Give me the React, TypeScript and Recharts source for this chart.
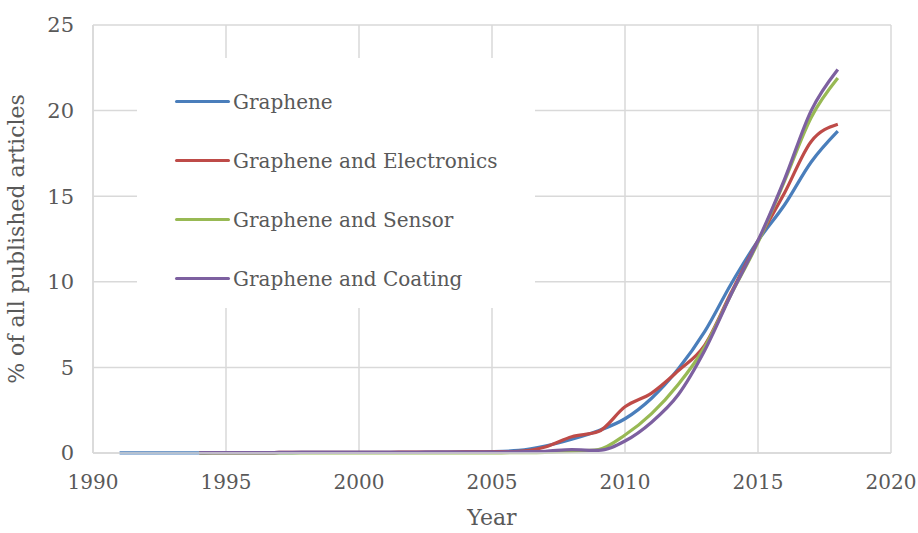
import React from 'react';
import { LineChart, Line, XAxis, YAxis, CartesianGrid, Legend } from 'recharts';

const years = [
  1991, 1992, 1993, 1994, 1995, 1996, 1997, 1998, 1999, 2000, 2001, 2002, 2003, 2004,
  2005, 2006, 2007, 2008, 2009, 2010, 2011, 2012, 2013, 2014, 2015, 2016, 2017, 2018,
];

// share of all published articles (%), one value per year above
const graphene = [
  0.01, 0.01, 0.01, 0.01, 0.02, 0.02, 0.02, 0.03, 0.03, 0.03, 0.04, 0.04, 0.05, 0.06,
  0.08, 0.15, 0.4, 0.8, 1.3, 2.0, 3.2, 4.9, 7.1, 9.9, 12.4, 14.5, 17.0, 18.8,
];
const electronics = [
  null, null, null, 0.02, 0.02, 0.02, 0.03, 0.03, 0.03, 0.04, 0.04, 0.05, 0.05, 0.06,
  0.07, 0.1, 0.35, 0.95, 1.25, 2.7, 3.5, 4.8, 6.3, 9.4, 12.4, 15.2, 18.2, 19.2,
];
const sensor = [
  null, null, null, 0.01, 0.01, 0.01, 0.01, 0.01, 0.01, 0.01, 0.01, 0.01, 0.01, 0.01,
  0.01, 0.02, 0.04, 0.1, 0.2, 1.05, 2.3, 4.0, 6.2, 9.3, 12.3, 15.9, 19.6, 21.9,
];
const coating = [
  null, null, null, 0.02, 0.02, 0.02, 0.03, 0.03, 0.03, 0.04, 0.04, 0.04, 0.05, 0.05,
  0.05, 0.07, 0.1, 0.2, 0.15, 0.7, 1.8, 3.4, 6.0, 9.3, 12.4, 16.0, 20.0, 22.4,
];

const xTicks = [1990, 1995, 2000, 2005, 2010, 2015, 2020];
const yTicks = [0, 5, 10, 15, 20, 25];

const series = [
  { key: 'graphene', name: 'Graphene', color: '#4a7ebb' },
  { key: 'electronics', name: 'Graphene and Electronics', color: '#be4b48' },
  { key: 'sensor', name: 'Graphene and Sensor', color: '#98b954' },
  { key: 'coating', name: 'Graphene and Coating', color: '#7d60a0' },
];

const data = years.map((year, i) => ({
  year,
  graphene: graphene[i],
  electronics: electronics[i],
  sensor: sensor[i],
  coating: coating[i],
}));

const FONT = '"DejaVu Serif", serif';
const TEXT = '#595959';
const GRID = '#d9d9d9';

const order = series.map((s) => s.name);

const renderLegend = (props: any) => {
  // keep the series order instead of the alphabetical one
  const items = [...(props.payload || [])].sort(
    (a: any, b: any) => order.indexOf(a.value) - order.indexOf(b.value)
  );
  return (
    <div style={{ paddingTop: 14 }}>
      {items.map((entry: any) => (
        <div
          key={entry.value}
          style={{ display: 'flex', alignItems: 'center', height: 59, fontFamily: FONT, fontSize: 20, color: TEXT }}
        >
          <div style={{ width: 55, height: 3.5, background: entry.color, borderRadius: 2, marginLeft: 38, marginRight: 3 }} />
          <span>{entry.value}</span>
        </div>
      ))}
    </div>
  );
};

export default function App() {
  return (
    <div style={{ position: 'absolute', left: 0, top: 0, background: '#fff' }}>
      <LineChart width={918} height={533} data={data} margin={{ top: 25, right: 27, bottom: 0, left: 0 }}>
        <CartesianGrid stroke={GRID} strokeWidth={1.5} />
        <XAxis
          dataKey="year"
          type="number"
          domain={[1990, 2020]}
          ticks={xTicks}
          height={80}
          tickSize={0}
          tickMargin={22}
          axisLine={{ stroke: GRID, strokeWidth: 1.5 }}
          tickLine={false}
          tick={{ fill: TEXT, fontSize: 20, fontFamily: FONT }}
          label={{ value: 'Year', position: 'insideBottom', offset: 8, fill: TEXT, fontSize: 22, fontFamily: FONT }}
        />
        <YAxis
          type="number"
          domain={[0, 25]}
          ticks={yTicks}
          width={93}
          tickSize={0}
          tickMargin={19}
          axisLine={{ stroke: GRID, strokeWidth: 1.5 }}
          tickLine={false}
          tick={{ fill: TEXT, fontSize: 21, fontFamily: FONT }}
          label={{
            value: '% of all published articles',
            angle: -90,
            position: 'insideLeft',
            offset: 16,
            style: { textAnchor: 'middle' },
            fill: TEXT,
            fontSize: 22,
            fontFamily: FONT,
          }}
        />
        <Legend
          layout="vertical"
          verticalAlign="middle"
          align="center"
          content={renderLegend}
          wrapperStyle={{ left: 137, top: 58, width: 398, height: 250, background: '#fff' }}
        />
        {series.map((s) => (
          <Line
            key={s.key}
            type="monotone"
            dataKey={s.key}
            name={s.name}
            stroke={s.color}
            strokeWidth={3.25}
            dot={false}
            isAnimationActive={false}
          />
        ))}
      </LineChart>
    </div>
  );
}
